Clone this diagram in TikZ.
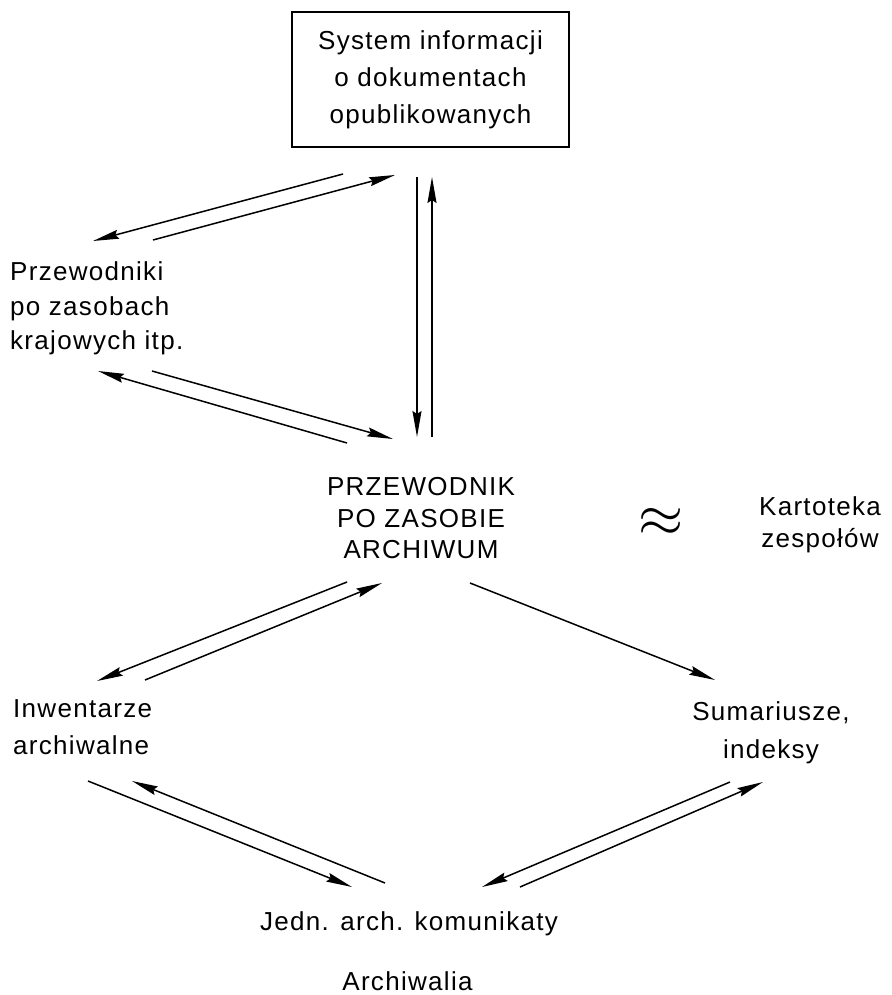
\documentclass[tikz,border=0pt]{standalone}
\usepackage{graphicx}
\usepackage{fontspec}
\setmainfont{Liberation Sans}[LetterSpace=5]
\usetikzlibrary{arrows.meta}
\begin{document}
\begin{tikzpicture}[x=1pt,y=-1pt,
  lbl/.style={inner sep=0pt, font=\fontsize{26}{37}\selectfont},
  conn/.style={line width=1.5pt, -{Stealth[length=26pt,width=9pt,inset=3pt]}}]
\useasboundingbox (0,0) rectangle (891,995);
% labels
\node[lbl, draw, line width=1.5pt, minimum width=277pt, minimum height=135pt, align=center] (sys) at (430.5,79.5) {System informacji\\o dokumentach\\opublikowanych};
\node[lbl, align=left, anchor=north west, font=\fontsize{26}{34.5}\selectfont] (przew) at (10,261.5) {Przewodniki\\po zasobach\\krajowych itp.};
\node[lbl, align=center, anchor=north, font=\fontsize{26}{31.5}\selectfont] (pza) at (421,477.5) {PRZEWODNIK\\PO ZASOBIE\\ARCHIWUM};
\node[inner sep=0pt] (approx) at (661,522) {\scalebox{5.8}{$\approx$}};
\node[lbl, align=center, anchor=north, font=\fontsize{26}{32}\selectfont] (kart) at (820,496.5) {Kartoteka\\zespołów};
\node[lbl, align=left, anchor=north west] (inw) at (13,699.5) {Inwentarze\\archiwalne};
\node[lbl, align=center, anchor=north, font=\fontsize{26}{38}\selectfont] (sum) at (771,701.5) {Sumariusze,\\indeksy};
\node[lbl, anchor=north] (jedn) at (409,911.5) {Jedn. arch. komunikaty};
\node[lbl, anchor=north] (archw) at (407.5,971) {Archiwalia};
% connector end points
\coordinate (a1s) at (343,174); \coordinate (a1e) at (93,241);
\coordinate (a2s) at (153,240); \coordinate (a2e) at (395,175);
\coordinate (v1s) at (417,177); \coordinate (v1e) at (417,437);
\coordinate (v2s) at (432,437); \coordinate (v2e) at (432,177);
\coordinate (b1s) at (347,443); \coordinate (b1e) at (98,371);
\coordinate (b2s) at (152,371); \coordinate (b2e) at (393,439);
\coordinate (c1s) at (347,582); \coordinate (c1e) at (97,681);
\coordinate (c2s) at (145,680); \coordinate (c2e) at (382,583);
\coordinate (ds) at (470,583); \coordinate (de) at (715,680);
\coordinate (e1s) at (88,781); \coordinate (e1e) at (352,887);
\coordinate (e2s) at (385,883); \coordinate (e2e) at (132,781);
\coordinate (f1s) at (730,782); \coordinate (f1e) at (482,887);
\coordinate (f2s) at (520,887); \coordinate (f2e) at (763,782);
% connectors
\draw[conn] (a1s) -- (a1e);
\draw[conn] (a2s) -- (a2e);
\draw[conn] (v1s) -- (v1e);
\draw[conn] (v2s) -- (v2e);
\draw[conn] (b1s) -- (b1e);
\draw[conn] (b2s) -- (b2e);
\draw[conn] (c1s) -- (c1e);
\draw[conn] (c2s) -- (c2e);
\draw[conn] (ds) -- (de);
\draw[conn] (e1s) -- (e1e);
\draw[conn] (e2s) -- (e2e);
\draw[conn] (f1s) -- (f1e);
\draw[conn] (f2s) -- (f2e);
\end{tikzpicture}
\end{document}
